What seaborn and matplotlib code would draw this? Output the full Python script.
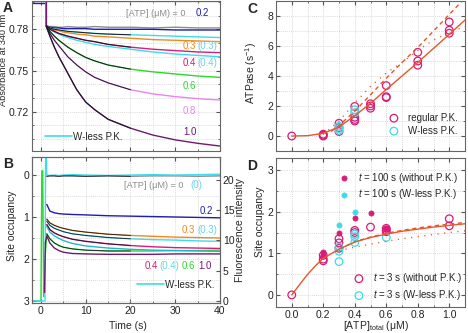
import matplotlib
matplotlib.use('Agg')
import matplotlib.pyplot as plt
import seaborn as sns
from matplotlib.ticker import MultipleLocator, FormatStrFormatter
from matplotlib.lines import Line2D

sns.set_style('ticks')
plt.rcParams['font.family'] = ['Liberation Sans', 'DejaVu Sans']
plt.rcParams['mathtext.fontset'] = 'custom'
plt.rcParams['mathtext.rm'] = 'Liberation Sans'
plt.rcParams['mathtext.it'] = 'Liberation Sans:italic'
plt.rcParams['font.size'] = 7

GRAY = '#8c8c8c'
BLUE = '#1f1fa8'
CYAN = '#3cdcec'
CYAN_TXT = '#6fd3e6'
ORANGE = '#f08a1c'
MAGENTA = '#d81c78'
GREEN = '#2bd82b'
PINK = '#ee82ee'
PURPLE = '#6e1a6e'
RED = '#e8562a'
TEAL = '#1fb8c8'

# ---- panel A: absorbance traces ----
A_PRE_T = [-2.0, 1.2]
A_PRE_BLUE = [0.7988, 0.7988]
A_PRE = [0.805, 0.805]
A_T = [1.2, 2, 3, 4, 5, 6, 8, 10, 12, 15, 20, 25, 30, 35, 40]
A_0 = [0.7825, 0.782, 0.782, 0.7815, 0.7815, 0.782, 0.7815, 0.7815, 0.782, 0.7815, 0.7815, 0.781, 0.7815, 0.781, 0.781]
A_02 = [0.7825, 0.7815, 0.781, 0.781, 0.7805, 0.7805, 0.7805, 0.7805, 0.780, 0.780, 0.780, 0.780, 0.7795, 0.7795, 0.7795]
A_03_WL = [0.7825, 0.781, 0.780, 0.7795, 0.779, 0.7785, 0.778, 0.7775, 0.777, 0.7765, 0.776, 0.7755, 0.775, 0.7745, 0.774]
A_03 = [0.7825, 0.7805, 0.7795, 0.779, 0.778, 0.7775, 0.7765, 0.776, 0.775, 0.7745, 0.7735, 0.7725, 0.772, 0.7715, 0.771]
A_04 = [0.7825, 0.780, 0.7785, 0.777, 0.776, 0.775, 0.7735, 0.772, 0.771, 0.769, 0.767, 0.7655, 0.7645, 0.7635, 0.763]
A_04_WL = [0.7825, 0.780, 0.778, 0.7765, 0.775, 0.774, 0.772, 0.7705, 0.769, 0.7675, 0.7655, 0.7635, 0.762, 0.761, 0.760]
A_06 = [0.782, 0.7785, 0.775, 0.772, 0.7695, 0.767, 0.763, 0.7595, 0.757, 0.754, 0.751, 0.749, 0.7475, 0.746, 0.745]
A_08 = [0.782, 0.777, 0.772, 0.768, 0.764, 0.760, 0.754, 0.749, 0.745, 0.741, 0.736, 0.733, 0.731, 0.7295, 0.7285]
A_10 = [0.782, 0.775, 0.767, 0.760, 0.754, 0.748, 0.736, 0.727, 0.7215, 0.7145, 0.708, 0.703, 0.6995, 0.697, 0.695]

# ---- panel B: site occupancy traces ----
B_T = [1.3, 2, 3, 4, 5, 7, 10, 15, 20, 25, 30, 35, 40]
B_0 = [0.03, 0.02, 0.02, 0.03, 0.02, 0.02, 0.03, 0.02, 0.03, 0.02, 0.02, 0.03, 0.02]
B_0_WL = [0.0, 0.01, 0.0, 0.01, 0.0, -0.01, 0.0, 0.01, 0.0, -0.01, 0.0, -0.01, -0.02]
B_02 = [0.70, 0.86, 0.90, 0.92, 0.93, 0.94, 0.95, 0.97, 0.98, 0.99, 1.00, 1.01, 1.02]
B_03 = [1.05, 1.14, 1.20, 1.24, 1.27, 1.32, 1.36, 1.41, 1.44, 1.46, 1.48, 1.49, 1.50]
B_03_WL = [1.10, 1.20, 1.27, 1.31, 1.35, 1.40, 1.44, 1.49, 1.52, 1.54, 1.55, 1.57, 1.58]
B_04 = [1.18, 1.30, 1.38, 1.43, 1.47, 1.53, 1.58, 1.64, 1.68, 1.71, 1.73, 1.74, 1.75]
B_04_WL = [1.22, 1.36, 1.45, 1.51, 1.56, 1.63, 1.69, 1.74, 1.77, 1.79, 1.80, 1.81, 1.82]
B_06 = [1.40, 1.52, 1.62, 1.68, 1.72, 1.76, 1.79, 1.81, 1.81, 1.81, 1.80, 1.80, 1.79]
B_10 = [1.45, 1.62, 1.74, 1.80, 1.84, 1.87, 1.88, 1.89, 1.89, 1.89, 1.88, 1.88, 1.88]
B_PRE_GREEN_T = [-2.0, 0.0, 0.2, 0.4, 0.6, 0.9]
B_PRE_GREEN = [3.0, 3.0, -0.1, -0.1, 2.9, 2.0]
B_PRE_CYAN_T = [-2.0, 0.9, 1.05, 1.2]
B_PRE_CYAN = [3.0, 3.0, -0.6, -0.6]
B_PRE_PURPLE_T = [0.8, 1.0]
B_PRE_PURPLE = [2.8, 1.6]

# ---- panel C: ATPase rates ----
C_X_REG = [0.0, 0.2, 0.2, 0.2, 0.3, 0.3, 0.3, 0.4, 0.4, 0.4, 0.4, 0.5, 0.5, 0.5,
           0.6, 0.6, 0.6, 0.8, 0.8, 0.8, 1.0, 1.0, 1.0]
C_Y_REG = [0.0, 0.12, 0.05, 0.0, 0.85, 0.55, 0.30, 1.97, 1.25, 1.10, 1.00, 2.15, 2.00, 1.85,
           3.36, 2.62, 2.56, 5.58, 5.00, 4.72, 7.60, 7.05, 6.85]
C_X_WL = [0.3, 0.3, 0.3, 0.4, 0.4]
C_Y_WL = [0.65, 0.50, 0.38, 1.75, 1.55]
C_FIT_X = [0.0, 0.1, 0.2, 0.3, 0.4, 0.5, 0.6, 0.7, 0.8, 0.9, 1.0, 1.1]
C_FIT = [0.0, 0.02, 0.18, 0.60, 1.35, 2.18, 3.10, 4.00, 4.90, 5.84, 6.78, 7.73]
C_DASH_X = [0.25, 0.3, 0.4, 0.5, 0.6, 0.7, 0.8, 0.9, 1.0, 1.1]
C_DASH = [0.3, 0.7, 1.65, 2.75, 3.85, 4.90, 5.90, 7.00, 8.10, 9.20]
C_DOT_X = [0.2, 0.3, 0.4, 0.5, 0.6, 0.7, 0.8, 0.9, 1.0, 1.1]
C_DOT = [0.1, 1.0, 2.2, 3.3, 4.2, 4.9, 5.7, 6.4, 6.9, 7.3]

# ---- panel D: site occupancy vs ATP ----
D_X_100_REG = [0.2, 0.2, 0.3, 0.4, 0.5, 0.6, 0.6]
D_Y_100_REG = [1.04, 0.97, 1.50, 1.84, 1.98, 1.62, 1.58]
D_X_100_WL = [0.3, 0.4]
D_Y_100_WL = [1.68, 2.00]
D_X_3_REG = [0.0, 0.2, 0.2, 0.2, 0.3, 0.3, 0.3, 0.4, 0.4, 0.5, 0.6, 0.6, 0.6, 1.0, 1.0]
D_Y_3_REG = [0.0, 0.95, 0.86, 0.82, 1.35, 1.25, 1.12, 1.55, 1.50, 1.63, 1.60, 1.56, 1.52, 1.83, 1.66]
D_X_3_WL = [0.3, 0.3, 0.3, 0.4, 0.4, 0.4, 0.6]
D_Y_3_WL = [1.15, 1.05, 0.80, 1.46, 1.40, 1.26, 1.38]
D_FIT_X = [0.0, 0.05, 0.1, 0.15, 0.2, 0.3, 0.4, 0.5, 0.6, 0.7, 0.8, 0.9, 1.0, 1.1]
D_FIT = [0.0, 0.25, 0.49, 0.70, 0.88, 1.10, 1.27, 1.38, 1.46, 1.53, 1.58, 1.63, 1.67, 1.71]
D_DASH_X = [0.3, 0.4, 0.5, 0.6, 0.7, 0.8, 0.9, 1.0, 1.1]
D_DASH = [1.10, 1.28, 1.39, 1.48, 1.55, 1.61, 1.66, 1.70, 1.74]
D_DOT = [1.06, 1.15, 1.22, 1.29, 1.35, 1.40, 1.45, 1.50, 1.54]

W, H = 468, 333
fig = plt.figure(figsize=(W / 100, H / 100), dpi=100)


def rect(l, r, t, b):
    return [l / W, 1 - b / H, (r - l) / W, (b - t) / H]


axA = fig.add_axes(rect(32, 220, 1, 151))
axB = fig.add_axes(rect(32, 220, 157, 303))
axC = fig.add_axes(rect(276, 465, 1, 151))
axD = fig.add_axes(rect(276, 465, 158, 307))


def style(ax, xmaj, xmin, ymaj, ymin, right=True):
    ax.xaxis.set_major_locator(MultipleLocator(xmaj))
    ax.xaxis.set_minor_locator(MultipleLocator(xmin))
    ax.yaxis.set_major_locator(MultipleLocator(ymaj))
    ax.yaxis.set_minor_locator(MultipleLocator(ymin))
    ax.grid(which='both', color='#cfcfcf', lw=0.5, ls=(0, (1.5, 1.5)))
    ax.set_axisbelow(True)
    ax.tick_params(which='both', direction='in', top=True, right=right,
                   labelsize=7.5, color='#555555', labelcolor='#222222', pad=2)
    ax.tick_params(which='major', length=3)
    ax.tick_params(which='minor', length=1.5)
    for s in ax.spines.values():
        s.set_color('#666666')
        s.set_linewidth(0.8)


def trace(ax, t, v, color, lw=1.0):
    sns.lineplot(x=t, y=v, ax=ax, color=color, lw=lw, estimator=None,
                 sort=False, legend=False)


def note(ax, x, y, s, color, size=7):
    ax.text(x, y, s, color=color, transform=ax.transAxes, va='center', fontsize=size)


# Panel A
for pre, vals, c in [(A_PRE, A_0, GRAY), (A_PRE_BLUE, A_02, BLUE),
                     (A_PRE, A_03_WL, CYAN), (A_PRE, A_03, ORANGE),
                     (A_PRE, A_04_WL, CYAN), (A_PRE, A_04, MAGENTA),
                     (A_PRE, A_06, GREEN), (A_PRE, A_08, PINK), (A_PRE, A_10, PURPLE)]:
    trace(axA, A_PRE_T + A_T, pre + vals, c)
for vals in [A_03_WL, A_04, A_06, A_08, A_10]:
    trace(axA, A_T[:11], vals[:11], '#1a1a2a', lw=0.7)
axA.set_xlim(-2, 40)
axA.set_ylim(0.6914, 0.8006)
style(axA, 10, 5, 0.03, 0.01)
axA.yaxis.set_major_formatter(FormatStrFormatter('%.2f'))
axA.tick_params(labelbottom=False)
axA.set_ylabel('Absorbance at 340 nm', fontsize=6.6)
axA.yaxis.set_label_coords(-0.127, 0.61)
axA.legend(handles=[Line2D([], [], color=CYAN, lw=1.2)], labels=['W-less P.K.'],
           loc='upper left', bbox_to_anchor=(0.069, 0.13), frameon=False,
           handlelength=2.8, handletextpad=0.1, borderpad=0, borderaxespad=0, fontsize=7)

note(axA, 0.50, 0.92, '[ATP] (μM) = 0', GRAY, 6.6)
note(axA, 0.873, 0.92, '0.2', BLUE)
note(axA, 0.803, 0.70, '0.3', ORANGE)
note(axA, 0.878, 0.70, '(0.3)', CYAN_TXT)
note(axA, 0.803, 0.587, '0.4', MAGENTA)
note(axA, 0.878, 0.587, '(0.4)', CYAN_TXT)
note(axA, 0.803, 0.433, '0.6', GREEN)
note(axA, 0.803, 0.267, '0.8', PINK)
note(axA, 0.803, 0.127, '1.0', PURPLE)

# Panel B
trace(axB, B_PRE_GREEN_T + B_T, B_PRE_GREEN + B_06, GREEN)
trace(axB, B_T, B_0, GRAY)
trace(axB, B_PRE_CYAN_T + B_T, B_PRE_CYAN + B_0_WL, CYAN)
trace(axB, B_T, B_02, BLUE)
trace(axB, B_T, B_03, ORANGE)
trace(axB, B_T, B_03_WL, CYAN)
trace(axB, B_T, B_04, MAGENTA)
trace(axB, B_T, B_04_WL, TEAL)
trace(axB, B_PRE_PURPLE_T + B_T, B_PRE_PURPLE + B_10, PURPLE)
for vals in [B_0, B_03, B_03_WL, B_04, B_06]:
    trace(axB, B_T[:9], vals[:9], '#1a1a2a', lw=0.6)
axB.set_xlim(-2, 40)
axB.set_ylim(3.05, -0.43)
style(axB, 10, 5, 1, 0.5, right=False)
axB.set_xlabel('Time (s)', fontsize=7.5)
axB.xaxis.set_label_coords(0.51, -0.125)
axB.set_ylabel('Site occupancy', fontsize=7.5)
axB.yaxis.set_label_coords(-0.08, 0.527)
axB.legend(handles=[Line2D([], [], color=CYAN, lw=1.2)], labels=['W-less P.K.'],
           loc='upper left', bbox_to_anchor=(0.559, 0.16), frameon=False,
           handlelength=2.8, handletextpad=0.1, borderpad=0, borderaxespad=0, fontsize=7)
note(axB, 0.489, 0.808, '[ATP] (μM) = 0', GRAY, 6.6)
note(axB, 0.845, 0.808, '(0)', CYAN_TXT)
note(axB, 0.894, 0.632, '0.2', BLUE)
note(axB, 0.798, 0.50, '0.3', ORANGE)
note(axB, 0.878, 0.50, '(0.3)', CYAN_TXT)
note(axB, 0.601, 0.253, '0.4', MAGENTA)
note(axB, 0.677, 0.253, '(0.4)', CYAN_TXT)
note(axB, 0.798, 0.253, '0.6', GREEN)
note(axB, 0.886, 0.253, '1.0', PURPLE)

axB2 = axB.twinx()
axB2.set_ylim(-0.35, 23.78)
axB2.yaxis.set_major_locator(MultipleLocator(5))
axB2.tick_params(direction='in', length=3, labelsize=7.5, color='#555555',
                 labelcolor='#222222', pad=2)
axB2.set_ylabel('Fluorescence intensity', fontsize=7.5)
axB2.yaxis.set_label_coords(1.082, 0.5)
for s in axB2.spines.values():
    s.set_color('#666666')
    s.set_linewidth(0.8)

# Panel C
sns.lineplot(x=C_FIT_X, y=C_FIT, ax=axC, color=RED, lw=1.0, estimator=None, sort=False)
sns.lineplot(x=C_DASH_X, y=C_DASH, ax=axC, color=RED, lw=1.0, estimator=None,
             sort=False, linestyle=(0, (3, 2.5)))
sns.lineplot(x=C_DOT_X, y=C_DOT, ax=axC, color=RED, lw=1.0, estimator=None,
             sort=False, linestyle=(0, (0.8, 4)))
sns.scatterplot(x=C_X_REG, y=C_Y_REG, ax=axC, s=30, color=MAGENTA, facecolor='none',
                edgecolor=MAGENTA, linewidth=0.9, label='regular P.K.')
sns.scatterplot(x=C_X_WL, y=C_Y_WL, ax=axC, s=30, color=CYAN, facecolor='none',
                edgecolor=CYAN, linewidth=0.9, label='W-less P.K.')
axC.set_xlim(-0.1, 1.1)
axC.set_ylim(-1, 9)
style(axC, 0.2, 0.1, 2, 1)
axC.tick_params(labelbottom=False)
axC.set_ylabel('ATPase (s$^{-1}$)', fontsize=7.5)
axC.yaxis.set_label_coords(-0.088, 0.52)
axC.legend(loc='upper left', bbox_to_anchor=(0.598, 0.255), frameon=False,
           handlelength=1.0, handletextpad=0.94, borderpad=0, borderaxespad=0,
           labelspacing=0.3, fontsize=7)

# Panel D
sns.lineplot(x=D_FIT_X, y=D_FIT, ax=axD, color=RED, lw=1.0, estimator=None, sort=False)
sns.lineplot(x=D_DASH_X, y=D_DASH, ax=axD, color=RED, lw=1.0, estimator=None,
             sort=False, linestyle=(0, (3, 2.5)))
sns.lineplot(x=D_DASH_X, y=D_DOT, ax=axD, color=RED, lw=1.0, estimator=None,
             sort=False, linestyle=(0, (0.8, 4)))
sns.scatterplot(x=D_X_100_REG, y=D_Y_100_REG, ax=axD, s=14, color=MAGENTA,
                edgecolor=MAGENTA, linewidth=0.5, label='$t$ = 100 s (without P.K.)')
sns.scatterplot(x=D_X_100_WL, y=D_Y_100_WL, ax=axD, s=14, color=CYAN,
                edgecolor=CYAN, linewidth=0.5, label='$t$ = 100 s (W-less P.K.)')
sns.scatterplot(x=D_X_3_REG, y=D_Y_3_REG, ax=axD, s=30, color=MAGENTA, facecolor='none',
                edgecolor=MAGENTA, linewidth=0.9, label='$t$ = 3 s (without P.K.)')
sns.scatterplot(x=D_X_3_WL, y=D_Y_3_WL, ax=axD, s=30, color=CYAN, facecolor='none',
                edgecolor=CYAN, linewidth=0.9, label='$t$ = 3 s (W-less P.K.)')
axD.set_xlim(-0.1, 1.1)
axD.set_ylim(-0.29, 3.29)
style(axD, 0.2, 0.1, 1, 0.5)
axD.xaxis.set_major_formatter(FormatStrFormatter('%.1f'))
axD.set_ylabel('Site occupancy', fontsize=7.5)
axD.yaxis.set_label_coords(-0.06, 0.57)
axD.set_xlabel('[ATP]$_{\\mathrm{total}}$ (μM)', fontsize=7.5)
axD.xaxis.set_label_coords(0.53, -0.082)
handles, labels = axD.get_legend_handles_labels()
leg1 = axD.legend(handles[:2], labels[:2], loc='upper left', bbox_to_anchor=(0.334, 0.916),
                  frameon=False, handlelength=1.0, handletextpad=0.94, borderpad=0,
                  borderaxespad=0, labelspacing=0.3, fontsize=7)
axD.add_artist(leg1)
axD.legend(handles[2:], labels[2:], loc='upper left', bbox_to_anchor=(0.413, 0.24),
           frameon=False, handlelength=1.0, handletextpad=0.94, borderpad=0,
           borderaxespad=0, labelspacing=0.3, fontsize=7)

fig.text(3 / W, 1 - 8 / H, 'A', fontsize=10, weight='bold', va='center')
fig.text(3 / W, 1 - 164 / H, 'B', fontsize=10, weight='bold', va='center')
fig.text(247 / W, 1 - 9 / H, 'C', fontsize=10, weight='bold', va='center')
fig.text(247 / W, 1 - 166 / H, 'D', fontsize=10, weight='bold', va='center')

fig.savefig('out.png', dpi=100)
